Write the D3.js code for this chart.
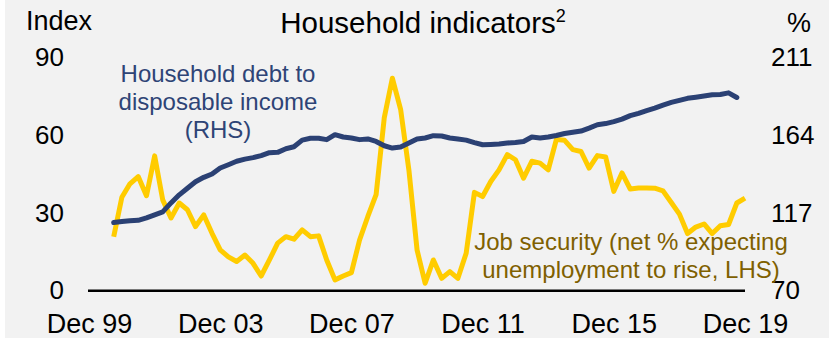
<!DOCTYPE html>
<html>
<head>
<meta charset="utf-8">
<script src="https://cdn.jsdelivr.net/npm/d3@7"></script>
<style>
  html, body { margin: 0; padding: 0; background: #ffffff; }
  svg { display: block; }
  text { font-family: "Liberation Sans", Arial, sans-serif; }
</style>
</head>
<body>
<svg id="chart" width="829" height="338"></svg>
<script>
// ---- Data (quarterly, Sep 2000 .. Dec 2019) ----
const firstQuarter = "2000-09-01";
const jobSecurity = [20.8, 36, 41.2, 44, 36.6, 52, 35, 28, 33.8, 31.2,
  24.7, 29.2, 22.1, 15.7, 13, 11.2, 13.7, 10.5, 5.6, 11.8,
  18.3, 20.8, 19.8, 23.4, 20.8, 21.1, 11.8, 4.1, 5.6, 6.9,
  19.5, 28.6, 37, 66.7, 82, 70, 46.6, 15.7, 2.8, 11.8,
  4.7, 7.3, 4.7, 14.4, 37.9, 36.3, 42.1, 46.6, 52.5, 50.5,
  43.4, 49.9, 49.2, 46.6, 58.3, 58, 54.4, 53.7, 47.3, 52.1,
  51.6, 38.3, 45.4, 39.2, 39.6, 39.6, 39.5, 38.5, 34, 29.5,
  22, 24.5, 25.7, 22, 25, 25.5, 33.8, 35.7];
const householdDebt = [111.1, 111.7, 112.2, 112.5, 114, 115.8, 117.6, 123, 127.9, 131.9,
  135.8, 138.5, 140.5, 144.1, 146.1, 148.2, 149.5, 150.4, 151.6, 153.4,
  153.6, 155.8, 157, 161, 162.1, 162.1, 161.3, 164.3, 162.9, 162.3,
  161.3, 161.7, 160.2, 157.6, 156.2, 156.8, 159.3, 161.7, 162.3, 163.7,
  163.5, 162.3, 161.7, 161, 159.5, 158.2, 158.4, 158.7, 159.2, 159.6,
  160.2, 162.9, 162.3, 162.9, 163.8, 165, 165.8, 166.5, 168.3, 170.3,
  171, 172.2, 173.7, 175.8, 177.2, 178.9, 180.4, 182.2, 183.8, 185.1,
  186.3, 187, 187.7, 188.4, 188.6, 189.6, 186.8];
const xTickYears = [1999, 2003, 2007, 2011, 2015, 2019];
const leftTicks = [0, 30, 60, 90];
const rightTicks = [70, 117, 164, 211];
const titleText = "Household indicators";
const debtLabel = ["Household debt to", "disposable income", "(RHS)"];
const jobLabel = ["Job security (net % expecting", "unemployment to rise, LHS)"];

// quarter dates (categories)
const start = new Date(firstQuarter);
const dateAt = i => d3.timeMonth.offset(start, 3 * i);

const svg = d3.select("#chart");
const W = 829, H = 338;

svg.append("rect").attr("x", 5).attr("y", 0).attr("width", W - 5).attr("height", H).attr("fill", "#f2f2f2");

const x = d3.scaleTime()
  .domain([new Date(1999, 11, 1), new Date(2019, 11, 1)])
  .range([89, 745]);
const yL = d3.scaleLinear().domain([0, 90]).range([290.5, 57.5]);
const yR = d3.scaleLinear().domain([70, 211]).range([290.5, 57.5]);

// x axis (labels only + baseline)
const xAxis = d3.axisBottom(x)
  .tickValues(xTickYears.map(y => new Date(y, 11, 1)))
  .tickFormat(d => "Dec " + d3.timeFormat("%y")(d))
  .tickSize(0).tickPadding(0);
const gx = svg.append("g").attr("transform", "translate(0,0)").call(xAxis);
gx.select(".domain").remove();
gx.selectAll("text")
  .attr("y", 333).attr("dy", 0)
  .attr("font-size", 27).attr("fill", "#000")
  .style("font-family", '"Liberation Sans", Arial, sans-serif');

// left axis labels
const gl = svg.append("g").attr("transform", "translate(64,0)")
  .call(d3.axisLeft(yL).tickValues(leftTicks).tickSize(0).tickPadding(0));
gl.select(".domain").remove();
gl.selectAll("text").attr("font-size", 26).attr("fill", "#000").attr("x", 0)
  .style("font-family", '"Liberation Sans", Arial, sans-serif');

// right axis labels
const gr = svg.append("g").attr("transform", "translate(771,0)")
  .call(d3.axisRight(yR).tickValues(rightTicks).tickSize(0).tickPadding(0));
gr.select(".domain").remove();
gr.selectAll("text").attr("font-size", 26).attr("fill", "#000").attr("x", 0)
  .style("font-family", '"Liberation Sans", Arial, sans-serif');

// baseline
svg.append("line")
  .attr("x1", 88).attr("x2", 745)
  .attr("y1", yL(0) + 0.2).attr("y2", yL(0) + 0.2)
  .attr("stroke", "#000").attr("stroke-width", 2.4);

// lines
const jobLine = d3.line().x((d, i) => x(dateAt(i))).y(d => yL(d));
const debtLine = d3.line().x((d, i) => x(dateAt(i))).y(d => yR(d));

svg.append("path").datum(jobSecurity)
  .attr("d", jobLine).attr("fill", "none")
  .attr("stroke", "#ffcc00").attr("stroke-width", 5).attr("stroke-linejoin", "round");
svg.append("path").datum(householdDebt)
  .attr("d", debtLine).attr("fill", "none")
  .attr("stroke", "#2b4174").attr("stroke-width", 5).attr("stroke-linejoin", "round").attr("stroke-linecap", "round");

// title
const t = svg.append("text").attr("x", 423).attr("y", 33)
  .attr("text-anchor", "middle").attr("font-size", 29.5).attr("fill", "#000");
t.append("tspan").text(titleText);
t.append("tspan").attr("font-size", 18).attr("dy", -11).text("2");

// unit labels
svg.append("text").attr("x", 26).attr("y", 30).attr("font-size", 27).attr("fill", "#000").text("Index");
svg.append("text").attr("x", 787).attr("y", 31.5).attr("font-size", 27).attr("fill", "#000").text("%");

// annotations
svg.append("g").selectAll("text").data(debtLabel).join("text")
  .attr("x", 218).attr("y", (d, i) => 82 + i * 28)
  .attr("text-anchor", "middle").attr("font-size", 24).attr("fill", "#2e4476")
  .text(d => d);
svg.append("g").selectAll("text").data(jobLabel).join("text")
  .attr("x", 631).attr("y", (d, i) => 250 + i * 28)
  .attr("text-anchor", "middle").attr("font-size", 24).attr("fill", "#7f6000")
  .text(d => d);
</script>
</body>
</html>
